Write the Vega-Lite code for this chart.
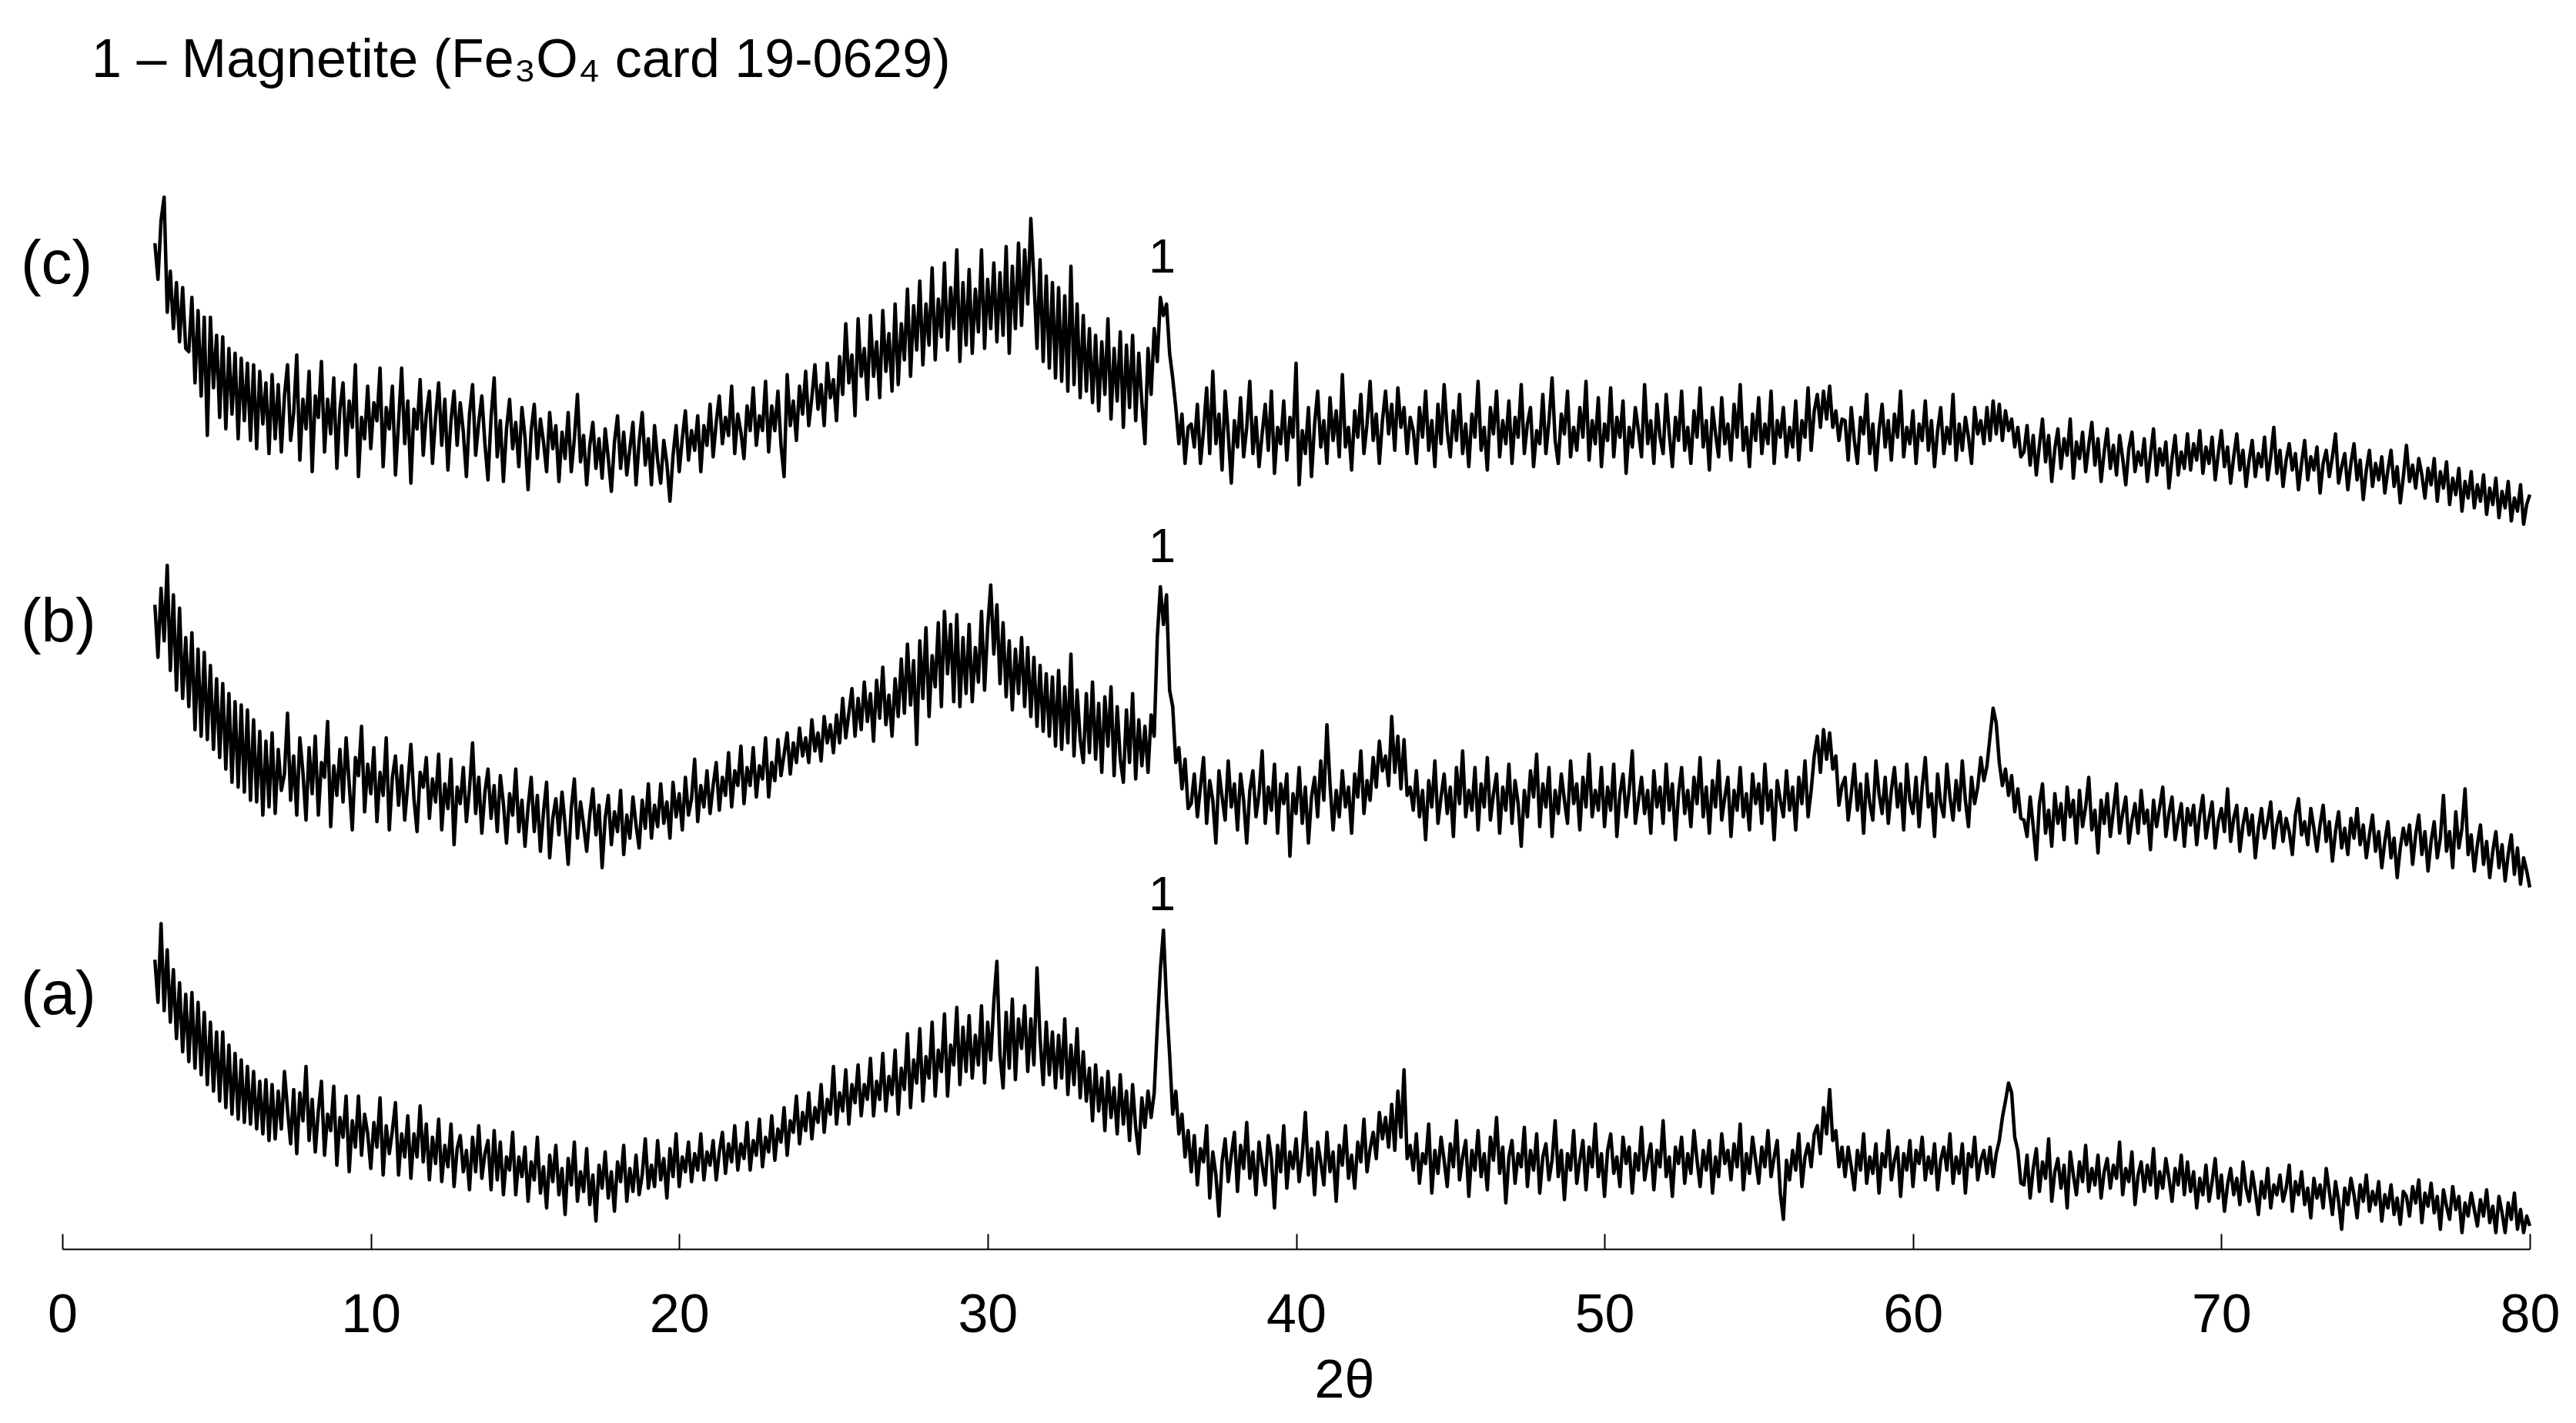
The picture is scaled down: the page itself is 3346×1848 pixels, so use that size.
{
"$schema":"https://vega.github.io/schema/vega-lite/v6.json",
"width":3205,"height":1622,
"autosize":{"type":"none"},
"padding":{"left":81,"top":0,"right":60,"bottom":226},
"background":"white",
"config":{"view":{"stroke":null},"text":{"font":"Liberation Sans","color":"black"}},
"datasets":{
"xrd":[
{"x":3,"a":176,"b":392,"c":612},{"x":3.1,"a":150,"b":360,"c":590},{"x":3.2,"a":198,"b":402,"c":626},{"x":3.3,"a":145,"b":370,"c":640},{"x":3.4,"a":182,"b":416,"c":570},{"x":3.5,"a":138,"b":352,"c":595},{"x":3.6,"a":170,"b":398,"c":560},{"x":3.7,"a":128,"b":340,"c":588},{"x":3.8,"a":162,"b":390,"c":552},{"x":3.9,"a":120,"b":335,"c":585},
{"x":4,"a":155,"b":372,"c":548},{"x":4.1,"a":114,"b":330,"c":546},{"x":4.2,"a":156,"b":375,"c":579},{"x":4.3,"a":110,"b":316,"c":527},{"x":4.4,"a":150,"b":365,"c":571},{"x":4.5,"a":106,"b":312,"c":519},{"x":4.6,"a":144,"b":363,"c":567},{"x":4.7,"a":100,"b":310,"c":495},{"x":4.8,"a":138,"b":355,"c":567},{"x":4.9,"a":96,"b":304,"c":524},
{"x":5,"a":132,"b":347,"c":556},{"x":5.1,"a":90,"b":299,"c":506},{"x":5.2,"a":132,"b":344,"c":555},{"x":5.3,"a":86,"b":292,"c":499},{"x":5.4,"a":124,"b":338,"c":548},{"x":5.5,"a":82,"b":284,"c":508},{"x":5.6,"a":119,"b":333,"c":545},{"x":5.7,"a":79,"b":281,"c":493},{"x":5.8,"a":115,"b":331,"c":542},{"x":5.9,"a":77,"b":278,"c":504},
{"x":6,"a":111,"b":328,"c":539},{"x":6.1,"a":76,"b":273,"c":492},{"x":6.2,"a":108,"b":322,"c":538},{"x":6.3,"a":73,"b":272,"c":487},{"x":6.4,"a":102,"b":315,"c":534},{"x":6.5,"a":70,"b":264,"c":502},{"x":6.6,"a":103,"b":309,"c":527},{"x":6.7,"a":66,"b":269,"c":484},{"x":6.8,"a":100,"b":314,"c":532},{"x":6.9,"a":67,"b":265,"c":493},
{"x":7,"a":96,"b":304,"c":526},{"x":7.1,"a":73,"b":279,"c":485},{"x":7.2,"a":108,"b":289,"c":519},{"x":7.3,"a":85,"b":326,"c":538},{"x":7.4,"a":64,"b":273,"c":492},{"x":7.5,"a":97,"b":300,"c":509},{"x":7.6,"a":58,"b":264,"c":544},{"x":7.7,"a":95,"b":311,"c":480},{"x":7.8,"a":78,"b":290,"c":517},{"x":7.9,"a":111,"b":261,"c":499},
{"x":8,"a":66,"b":305,"c":534},{"x":8.1,"a":91,"b":277,"c":473},{"x":8.2,"a":59,"b":312,"c":519},{"x":8.3,"a":84,"b":264,"c":506},{"x":8.4,"a":102,"b":296,"c":540},{"x":8.5,"a":57,"b":287,"c":485},{"x":8.6,"a":82,"b":321,"c":517},{"x":8.7,"a":72,"b":257,"c":496},{"x":8.8,"a":99,"b":294,"c":530},{"x":8.9,"a":51,"b":276,"c":475},
{"x":9,"a":80,"b":304,"c":511},{"x":9.1,"a":68,"b":272,"c":527},{"x":9.2,"a":93,"b":311,"c":483},{"x":9.3,"a":47,"b":283,"c":516},{"x":9.4,"a":78,"b":255,"c":500},{"x":9.5,"a":62,"b":299,"c":538},{"x":9.6,"a":93,"b":288,"c":470},{"x":9.7,"a":57,"b":318,"c":506},{"x":9.8,"a":82,"b":266,"c":493},{"x":9.9,"a":70,"b":295,"c":525},
{"x":10,"a":49,"b":277,"c":487},{"x":10.1,"a":77,"b":305,"c":515},{"x":10.2,"a":62,"b":260,"c":504},{"x":10.3,"a":92,"b":290,"c":536},{"x":10.4,"a":45,"b":276,"c":476},{"x":10.5,"a":75,"b":311,"c":512},{"x":10.6,"a":58,"b":255,"c":499},{"x":10.7,"a":72,"b":287,"c":525},{"x":10.8,"a":89,"b":300,"c":471},{"x":10.9,"a":45,"b":270,"c":503},
{"x":11,"a":70,"b":294,"c":536},{"x":11.1,"a":56,"b":261,"c":490},{"x":11.2,"a":81,"b":283,"c":516},{"x":11.3,"a":43,"b":307,"c":466},{"x":11.4,"a":70,"b":274,"c":511},{"x":11.5,"a":56,"b":254,"c":499},{"x":11.6,"a":87,"b":290,"c":529},{"x":11.7,"a":53,"b":281,"c":483},{"x":11.8,"a":76,"b":299,"c":508},{"x":11.9,"a":42,"b":262,"c":522},
{"x":12,"a":68,"b":286,"c":478},{"x":12.1,"a":52,"b":272,"c":506},{"x":12.2,"a":79,"b":301,"c":527},{"x":12.3,"a":41,"b":255,"c":489},{"x":12.4,"a":63,"b":283,"c":517},{"x":12.5,"a":50,"b":268,"c":474},{"x":12.6,"a":76,"b":298,"c":504},{"x":12.7,"a":38,"b":246,"c":522},{"x":12.8,"a":61,"b":281,"c":489},{"x":12.9,"a":69,"b":271,"c":515},
{"x":13,"a":47,"b":293,"c":497},{"x":13.1,"a":60,"b":260,"c":470},{"x":13.2,"a":36,"b":280,"c":508},{"x":13.3,"a":68,"b":308,"c":526},{"x":13.4,"a":47,"b":265,"c":483},{"x":13.5,"a":75,"b":287,"c":503},{"x":13.6,"a":43,"b":253,"c":519},{"x":13.7,"a":58,"b":278,"c":490},{"x":13.8,"a":66,"b":292,"c":468},{"x":13.9,"a":36,"b":262,"c":506},
{"x":14,"a":72,"b":282,"c":530},{"x":14.1,"a":42,"b":254,"c":482},{"x":14.2,"a":65,"b":288,"c":504},{"x":14.3,"a":33,"b":271,"c":467},{"x":14.4,"a":56,"b":247,"c":499},{"x":14.5,"a":48,"b":277,"c":517},{"x":14.6,"a":71,"b":264,"c":487},{"x":14.7,"a":33,"b":292,"c":503},{"x":14.8,"a":56,"b":254,"c":476},{"x":14.9,"a":44,"b":273,"c":512},
{"x":15,"a":62,"b":245,"c":494},{"x":15.1,"a":29,"b":269,"c":462},{"x":15.2,"a":53,"b":287,"c":498},{"x":15.3,"a":42,"b":254,"c":514},{"x":15.4,"a":68,"b":276,"c":481},{"x":15.5,"a":34,"b":242,"c":505},{"x":15.6,"a":50,"b":266,"c":491},{"x":15.7,"a":25,"b":284,"c":473},{"x":15.8,"a":57,"b":238,"c":509},{"x":15.9,"a":41,"b":262,"c":487},
{"x":16,"a":63,"b":274,"c":501},{"x":16.1,"a":33,"b":252,"c":467},{"x":16.2,"a":49,"b":278,"c":497},{"x":16.3,"a":21,"b":258,"c":481},{"x":16.4,"a":55,"b":234,"c":509},{"x":16.5,"a":39,"b":268,"c":473},{"x":16.6,"a":65,"b":286,"c":493},{"x":16.7,"a":29,"b":250,"c":520},{"x":16.8,"a":47,"b":272,"c":479},{"x":16.9,"a":35,"b":258,"c":495},
{"x":17,"a":61,"b":242,"c":465},{"x":17.1,"a":27,"b":264,"c":489},{"x":17.2,"a":45,"b":280,"c":503},{"x":17.3,"a":17,"b":252,"c":475},{"x":17.4,"a":51,"b":270,"c":493},{"x":17.5,"a":37,"b":232,"c":469},{"x":17.6,"a":59,"b":262,"c":499},{"x":17.7,"a":31,"b":276,"c":481},{"x":17.8,"a":47,"b":246,"c":461},{"x":17.9,"a":23,"b":266,"c":491},
{"x":18,"a":53,"b":254,"c":507},{"x":18.1,"a":41,"b":279,"c":475},{"x":18.2,"a":63,"b":240,"c":497},{"x":18.3,"a":29,"b":264,"c":471},{"x":18.4,"a":49,"b":250,"c":487},{"x":18.5,"a":35,"b":275,"c":503},{"x":18.6,"a":57,"b":258,"c":465},{"x":18.7,"a":33,"b":244,"c":491},{"x":18.8,"a":45,"b":273,"c":509},{"x":18.9,"a":67,"b":256,"c":477},
{"x":19,"a":37,"b":283,"c":493},{"x":19.1,"a":51,"b":250,"c":465},{"x":19.2,"a":38,"b":270,"c":501},{"x":19.3,"a":66,"b":257,"c":480},{"x":19.4,"a":42,"b":283,"c":466},{"x":19.5,"a":55,"b":259,"c":492},{"x":19.6,"a":31,"b":272,"c":478},{"x":19.7,"a":61,"b":250,"c":455},{"x":19.8,"a":44,"b":284,"c":483},{"x":19.9,"a":70,"b":263,"c":501},
{"x":20,"a":38,"b":277,"c":473},{"x":20.1,"a":56,"b":255,"c":493},{"x":20.2,"a":47,"b":287,"c":510},{"x":20.3,"a":65,"b":264,"c":480},{"x":20.4,"a":41,"b":274,"c":498},{"x":20.5,"a":58,"b":298,"c":486},{"x":20.6,"a":48,"b":260,"c":507},{"x":20.7,"a":70,"b":282,"c":473},{"x":20.8,"a":42,"b":269,"c":501},{"x":20.9,"a":59,"b":291,"c":489},
{"x":21,"a":51,"b":265,"c":514},{"x":21.1,"a":66,"b":282,"c":482},{"x":21.2,"a":42,"b":296,"c":503},{"x":21.3,"a":59,"b":267,"c":519},{"x":21.4,"a":71,"b":287,"c":490},{"x":21.5,"a":46,"b":276,"c":506},{"x":21.6,"a":64,"b":302,"c":495},{"x":21.7,"a":53,"b":269,"c":525},{"x":21.8,"a":75,"b":291,"c":484},{"x":21.9,"a":48,"b":282,"c":508},
{"x":22,"a":64,"b":306,"c":497},{"x":22.1,"a":55,"b":271,"c":481},{"x":22.2,"a":77,"b":293,"c":513},{"x":22.3,"a":48,"b":282,"c":498},{"x":22.4,"a":66,"b":305,"c":524},{"x":22.5,"a":57,"b":275,"c":489},{"x":22.6,"a":79,"b":294,"c":507},{"x":22.7,"a":50,"b":286,"c":498},{"x":22.8,"a":68,"b":311,"c":528},{"x":22.9,"a":59,"b":275,"c":485},
{"x":23,"a":81,"b":296,"c":513},{"x":23.1,"a":54,"b":285,"c":498},{"x":23.2,"a":73,"b":310,"c":522},{"x":23.3,"a":65,"b":288,"c":489},{"x":23.4,"a":86,"b":301,"c":470},{"x":23.5,"a":57,"b":314,"c":532},{"x":23.6,"a":78,"b":289,"c":501},{"x":23.7,"a":71,"b":308,"c":516},{"x":23.8,"a":93,"b":296,"c":492},{"x":23.9,"a":64,"b":317,"c":525},
{"x":24,"a":83,"b":300,"c":508},{"x":24.1,"a":72,"b":311,"c":534},{"x":24.2,"a":95,"b":296,"c":501},{"x":24.3,"a":67,"b":322,"c":518},{"x":24.4,"a":86,"b":303,"c":538},{"x":24.5,"a":77,"b":314,"c":511},{"x":24.6,"a":100,"b":297,"c":526},{"x":24.7,"a":71,"b":324,"c":501},{"x":24.8,"a":91,"b":308,"c":539},{"x":24.9,"a":82,"b":319,"c":518},
{"x":25,"a":111,"b":302,"c":529},{"x":25.1,"a":76,"b":325,"c":504},{"x":25.2,"a":95,"b":308,"c":543},{"x":25.3,"a":84,"b":335,"c":520},{"x":25.4,"a":109,"b":311,"c":563},{"x":25.5,"a":76,"b":326,"c":527},{"x":25.6,"a":100,"b":341,"c":544},{"x":25.7,"a":89,"b":312,"c":507},{"x":25.8,"a":112,"b":335,"c":566},{"x":25.9,"a":81,"b":316,"c":531},
{"x":26,"a":100,"b":345,"c":548},{"x":26.1,"a":91,"b":321,"c":517},{"x":26.2,"a":116,"b":338,"c":568},{"x":26.3,"a":81,"b":309,"c":531},{"x":26.4,"a":102,"b":346,"c":552},{"x":26.5,"a":91,"b":323,"c":518},{"x":26.6,"a":119,"b":354,"c":571},{"x":26.7,"a":84,"b":319,"c":534},{"x":26.8,"a":105,"b":337,"c":557},{"x":26.9,"a":94,"b":312,"c":522},
{"x":27,"a":121,"b":347,"c":575},{"x":27.1,"a":82,"b":324,"c":526},{"x":27.2,"a":110,"b":359,"c":563},{"x":27.3,"a":97,"b":326,"c":541},{"x":27.4,"a":131,"b":368,"c":584},{"x":27.5,"a":86,"b":331,"c":531},{"x":27.6,"a":115,"b":358,"c":574},{"x":27.7,"a":101,"b":307,"c":547},{"x":27.8,"a":134,"b":370,"c":589},{"x":27.9,"a":90,"b":335,"c":538},
{"x":28,"a":117,"b":378,"c":575},{"x":28.1,"a":104,"b":324,"c":550},{"x":28.2,"a":138,"b":361,"c":597},{"x":28.3,"a":93,"b":342,"c":541},{"x":28.4,"a":121,"b":381,"c":578},{"x":28.5,"a":108,"b":330,"c":555},{"x":28.6,"a":143,"b":388,"c":600},{"x":28.7,"a":93,"b":350,"c":547},{"x":28.8,"a":124,"b":380,"c":585},{"x":28.9,"a":112,"b":333,"c":560},
{"x":29,"a":147,"b":386,"c":608},{"x":29.1,"a":100,"b":330,"c":540},{"x":29.2,"a":135,"b":372,"c":588},{"x":29.3,"a":108,"b":338,"c":550},{"x":29.4,"a":142,"b":380,"c":596},{"x":29.5,"a":104,"b":333,"c":545},{"x":29.6,"a":130,"b":366,"c":584},{"x":29.7,"a":112,"b":345,"c":558},{"x":29.8,"a":148,"b":388,"c":608},{"x":29.9,"a":101,"b":340,"c":548},
{"x":30,"a":138,"b":378,"c":590},{"x":30.1,"a":115,"b":404,"c":560},{"x":30.2,"a":150,"b":362,"c":600},{"x":30.3,"a":175,"b":392,"c":552},{"x":30.4,"a":118,"b":344,"c":594},{"x":30.5,"a":98,"b":381,"c":556},{"x":30.6,"a":144,"b":336,"c":610},{"x":30.7,"a":110,"b":370,"c":545},{"x":30.8,"a":152,"b":328,"c":598},{"x":30.9,"a":103,"b":365,"c":560},
{"x":31,"a":140,"b":338,"c":612},{"x":31.1,"a":122,"b":372,"c":562},{"x":31.2,"a":148,"b":330,"c":608},{"x":31.3,"a":108,"b":366,"c":575},{"x":31.4,"a":140,"b":324,"c":627},{"x":31.5,"a":112,"b":360,"c":590},{"x":31.6,"a":171,"b":318,"c":548},{"x":31.7,"a":128,"b":355,"c":602},{"x":31.8,"a":100,"b":315,"c":540},{"x":31.9,"a":138,"b":350,"c":592},
{"x":32,"a":106,"b":312,"c":536},{"x":32.1,"a":132,"b":348,"c":588},{"x":32.2,"a":98,"b":306,"c":530},{"x":32.3,"a":130,"b":352,"c":585},{"x":32.4,"a":104,"b":304,"c":528},{"x":32.5,"a":140,"b":342,"c":580},{"x":32.6,"a":94,"b":308,"c":522},{"x":32.7,"a":124,"b":362,"c":598},{"x":32.8,"a":100,"b":300,"c":526},{"x":32.9,"a":134,"b":340,"c":575},
{"x":33,"a":92,"b":310,"c":518},{"x":33.1,"a":120,"b":296,"c":568},{"x":33.2,"a":90,"b":338,"c":522},{"x":33.3,"a":110,"b":302,"c":560},{"x":33.4,"a":78,"b":345,"c":515},{"x":33.5,"a":112,"b":298,"c":556},{"x":33.6,"a":84,"b":332,"c":510},{"x":33.7,"a":104,"b":290,"c":552},{"x":33.8,"a":72,"b":336,"c":520},{"x":33.9,"a":108,"b":306,"c":566},
{"x":34,"a":80,"b":342,"c":505},{"x":34.1,"a":98,"b":288,"c":548},{"x":34.2,"a":70,"b":330,"c":516},{"x":34.3,"a":106,"b":298,"c":558},{"x":34.4,"a":76,"b":284,"c":500},{"x":34.5,"a":96,"b":328,"c":550},{"x":34.6,"a":66,"b":296,"c":512},{"x":34.7,"a":100,"b":338,"c":556},{"x":34.8,"a":74,"b":286,"c":504},{"x":34.9,"a":58,"b":322,"c":545},
{"x":35,"a":92,"b":294,"c":515},{"x":35.1,"a":74,"b":318,"c":490},{"x":35.2,"a":96,"b":290,"c":548},{"x":35.3,"a":80,"b":325,"c":520},{"x":35.4,"a":95,"b":312,"c":560},{"x":35.5,"a":135,"b":372,"c":540},{"x":35.6,"a":170,"b":403,"c":579},{"x":35.7,"a":194,"b":380,"c":568},{"x":35.8,"a":150,"b":398,"c":575},{"x":35.9,"a":118,"b":340,"c":545},
{"x":36,"a":82,"b":330,"c":530},{"x":36.1,"a":96,"b":296,"c":512},{"x":36.2,"a":70,"b":305,"c":490},{"x":36.3,"a":82,"b":280,"c":508},{"x":36.4,"a":56,"b":298,"c":478},{"x":36.5,"a":72,"b":268,"c":500},{"x":36.6,"a":47,"b":271,"c":502},{"x":36.7,"a":69,"b":289,"c":488},{"x":36.8,"a":39,"b":263,"c":514},{"x":36.9,"a":61,"b":281,"c":478},
{"x":37,"a":53,"b":299,"c":498},{"x":37.1,"a":75,"b":259,"c":524},{"x":37.2,"a":31,"b":285,"c":484},{"x":37.3,"a":59,"b":273,"c":534},{"x":37.4,"a":45,"b":247,"c":490},{"x":37.5,"a":20,"b":291,"c":508},{"x":37.6,"a":53,"b":275,"c":474},{"x":37.7,"a":67,"b":261,"c":522},{"x":37.8,"a":41,"b":297,"c":496},{"x":37.9,"a":57,"b":269,"c":466},
{"x":38,"a":71,"b":283,"c":504},{"x":38.1,"a":35,"b":255,"c":488},{"x":38.2,"a":63,"b":289,"c":518},{"x":38.3,"a":49,"b":273,"c":482},{"x":38.4,"a":77,"b":247,"c":500},{"x":38.5,"a":43,"b":279,"c":528},{"x":38.6,"a":59,"b":291,"c":484},{"x":38.7,"a":33,"b":263,"c":506},{"x":38.8,"a":65,"b":277,"c":476},{"x":38.9,"a":51,"b":303,"c":496},
{"x":39,"a":39,"b":259,"c":514},{"x":39.1,"a":69,"b":281,"c":486},{"x":39.2,"a":55,"b":267,"c":522},{"x":39.3,"a":25,"b":295,"c":472},{"x":39.4,"a":63,"b":253,"c":500},{"x":39.5,"a":47,"b":283,"c":490},{"x":39.6,"a":75,"b":271,"c":516},{"x":39.7,"a":37,"b":289,"c":480},{"x":39.8,"a":59,"b":239,"c":506},{"x":39.9,"a":49,"b":277,"c":494},
{"x":40,"a":67,"b":265,"c":539},{"x":40.1,"a":41,"b":293,"c":465},{"x":40.2,"a":57,"b":259,"c":498},{"x":40.3,"a":83,"b":281,"c":484},{"x":40.4,"a":45,"b":247,"c":512},{"x":40.5,"a":61,"b":275,"c":470},{"x":40.6,"a":33,"b":287,"c":502},{"x":40.7,"a":65,"b":263,"c":522},{"x":40.8,"a":53,"b":297,"c":488},{"x":40.9,"a":39,"b":273,"c":504},
{"x":41,"a":71,"b":319,"c":478},{"x":41.1,"a":47,"b":283,"c":518},{"x":41.2,"a":59,"b":255,"c":492},{"x":41.3,"a":29,"b":279,"c":510},{"x":41.4,"a":63,"b":263,"c":482},{"x":41.5,"a":51,"b":291,"c":532},{"x":41.6,"a":75,"b":269,"c":488},{"x":41.7,"a":43,"b":281,"c":500},{"x":41.8,"a":57,"b":253,"c":474},{"x":41.9,"a":37,"b":289,"c":510},
{"x":42,"a":65,"b":275,"c":494},{"x":42.1,"a":53,"b":303,"c":520},{"x":42.2,"a":79,"b":265,"c":484},{"x":42.3,"a":47,"b":285,"c":502},{"x":42.4,"a":61,"b":273,"c":528},{"x":42.5,"a":71,"b":299,"c":492},{"x":42.6,"a":55,"b":281,"c":508},{"x":42.7,"a":83,"b":309,"c":478},{"x":42.8,"a":67,"b":291,"c":504},{"x":42.9,"a":80,"b":300,"c":522},
{"x":43,"a":62,"b":282,"c":496},{"x":43.1,"a":88,"b":324,"c":514},{"x":43.2,"a":60,"b":290,"c":486},{"x":43.3,"a":96,"b":312,"c":524},{"x":43.4,"a":68,"b":280,"c":500},{"x":43.5,"a":109,"b":310,"c":512},{"x":43.6,"a":55,"b":276,"c":484},{"x":43.7,"a":63,"b":281,"c":506},{"x":43.8,"a":48,"b":267,"c":498},{"x":43.9,"a":70,"b":291,"c":478},
{"x":44,"a":40,"b":263,"c":512},{"x":44.1,"a":58,"b":279,"c":494},{"x":44.2,"a":52,"b":249,"c":522},{"x":44.3,"a":76,"b":285,"c":486},{"x":44.4,"a":34,"b":269,"c":504},{"x":44.5,"a":60,"b":297,"c":476},{"x":44.6,"a":46,"b":259,"c":514},{"x":44.7,"a":68,"b":275,"c":490},{"x":44.8,"a":54,"b":289,"c":526},{"x":44.9,"a":38,"b":265,"c":498},
{"x":45,"a":64,"b":281,"c":482},{"x":45.1,"a":50,"b":251,"c":510},{"x":45.2,"a":78,"b":293,"c":492},{"x":45.3,"a":42,"b":271,"c":520},{"x":45.4,"a":56,"b":303,"c":484},{"x":45.5,"a":66,"b":263,"c":502},{"x":45.6,"a":32,"b":279,"c":476},{"x":45.7,"a":60,"b":267,"c":508},{"x":45.8,"a":48,"b":293,"c":494},{"x":45.9,"a":72,"b":255,"c":528},
{"x":46,"a":44,"b":283,"c":486},{"x":46.1,"a":58,"b":269,"c":500},{"x":46.2,"a":36,"b":299,"c":474},{"x":46.3,"a":68,"b":261,"c":512},{"x":46.4,"a":54,"b":277,"c":496},{"x":46.5,"a":80,"b":289,"c":522},{"x":46.6,"a":46,"b":253,"c":482},{"x":46.7,"a":62,"b":281,"c":504},{"x":46.8,"a":28,"b":267,"c":490},{"x":46.9,"a":56,"b":295,"c":516},
{"x":47,"a":66,"b":259,"c":478},{"x":47.1,"a":40,"b":285,"c":506},{"x":47.2,"a":58,"b":271,"c":494},{"x":47.3,"a":50,"b":245,"c":526},{"x":47.4,"a":74,"b":279,"c":484},{"x":47.5,"a":38,"b":263,"c":502},{"x":47.6,"a":60,"b":291,"c":512},{"x":47.7,"a":48,"b":275,"c":476},{"x":47.8,"a":70,"b":301,"c":498},{"x":47.9,"a":34,"b":257,"c":490},
{"x":48,"a":56,"b":283,"c":520},{"x":48.1,"a":64,"b":269,"c":484},{"x":48.2,"a":42,"b":293,"c":504},{"x":48.3,"a":54,"b":251,"c":530},{"x":48.4,"a":78,"b":279,"c":492},{"x":48.5,"a":44,"b":265,"c":478},{"x":48.6,"a":60,"b":289,"c":508},{"x":48.7,"a":30,"b":273,"c":496},{"x":48.8,"a":58,"b":259,"c":522},{"x":48.9,"a":48,"b":297,"c":482},
{"x":49,"a":72,"b":271,"c":500},{"x":49.1,"a":40,"b":283,"c":486},{"x":49.2,"a":54,"b":255,"c":512},{"x":49.3,"a":66,"b":287,"c":494},{"x":49.4,"a":36,"b":269,"c":528},{"x":49.5,"a":62,"b":301,"c":480},{"x":49.6,"a":50,"b":263,"c":504},{"x":49.7,"a":76,"b":279,"c":490},{"x":49.8,"a":44,"b":267,"c":518},{"x":49.9,"a":58,"b":293,"c":476},
{"x":50,"a":32,"b":257,"c":502},{"x":50.1,"a":60,"b":281,"c":492},{"x":50.2,"a":70,"b":267,"c":524},{"x":50.3,"a":46,"b":295,"c":482},{"x":50.4,"a":56,"b":251,"c":506},{"x":50.5,"a":38,"b":277,"c":494},{"x":50.6,"a":68,"b":289,"c":516},{"x":50.7,"a":52,"b":263,"c":472},{"x":50.8,"a":62,"b":279,"c":500},{"x":50.9,"a":34,"b":303,"c":488},
{"x":51,"a":58,"b":259,"c":512},{"x":51.1,"a":48,"b":273,"c":498},{"x":51.2,"a":74,"b":287,"c":482},{"x":51.3,"a":42,"b":265,"c":526},{"x":51.4,"a":54,"b":279,"c":490},{"x":51.5,"a":64,"b":253,"c":504},{"x":51.6,"a":36,"b":291,"c":478},{"x":51.7,"a":60,"b":269,"c":514},{"x":51.8,"a":50,"b":281,"c":494},{"x":51.9,"a":78,"b":259,"c":484},
{"x":52,"a":44,"b":295,"c":520},{"x":52.1,"a":56,"b":267,"c":496},{"x":52.2,"a":32,"b":283,"c":476},{"x":52.3,"a":62,"b":249,"c":506},{"x":52.4,"a":52,"b":277,"c":492},{"x":52.5,"a":68,"b":293,"c":522},{"x":52.6,"a":40,"b":265,"c":486},{"x":52.7,"a":58,"b":279,"c":500},{"x":52.8,"a":46,"b":257,"c":478},{"x":52.9,"a":72,"b":287,"c":510},
{"x":53,"a":54,"b":271,"c":494},{"x":53.1,"a":38,"b":299,"c":524},{"x":53.2,"a":60,"b":263,"c":488},{"x":53.3,"a":48,"b":281,"c":504},{"x":53.4,"a":66,"b":253,"c":474},{"x":53.5,"a":34,"b":285,"c":512},{"x":53.6,"a":56,"b":269,"c":496},{"x":53.7,"a":44,"b":297,"c":482},{"x":53.8,"a":70,"b":261,"c":518},{"x":53.9,"a":52,"b":275,"c":490},
{"x":54,"a":60,"b":287,"c":502},{"x":54.1,"a":42,"b":251,"c":480},{"x":54.2,"a":64,"b":279,"c":514},{"x":54.3,"a":50,"b":267,"c":494},{"x":54.4,"a":76,"b":293,"c":526},{"x":54.5,"a":36,"b":263,"c":486},{"x":54.6,"a":58,"b":277,"c":500},{"x":54.7,"a":46,"b":255,"c":476},{"x":54.8,"a":68,"b":289,"c":508},{"x":54.9,"a":54,"b":271,"c":492},
{"x":55,"a":40,"b":283,"c":518},{"x":55.1,"a":62,"b":259,"c":484},{"x":55.2,"a":50,"b":295,"c":502},{"x":55.3,"a":72,"b":267,"c":490},{"x":55.4,"a":44,"b":279,"c":522},{"x":55.5,"a":56,"b":249,"c":478},{"x":55.6,"a":66,"b":285,"c":504},{"x":55.7,"a":34,"b":273,"c":494},{"x":55.8,"a":18,"b":263,"c":512},{"x":55.9,"a":54,"b":291,"c":482},
{"x":56,"a":42,"b":267,"c":500},{"x":56.1,"a":60,"b":281,"c":488},{"x":56.2,"a":48,"b":255,"c":516},{"x":56.3,"a":70,"b":287,"c":480},{"x":56.4,"a":38,"b":271,"c":504},{"x":56.5,"a":56,"b":297,"c":494},{"x":56.6,"a":64,"b":263,"c":524},{"x":56.7,"a":50,"b":279,"c":486},{"x":56.8,"a":70,"b":300,"c":510},{"x":56.9,"a":75,"b":312,"c":520},
{"x":57,"a":58,"b":290,"c":500},{"x":57.1,"a":86,"b":316,"c":522},{"x":57.2,"a":70,"b":298,"c":505},{"x":57.3,"a":97,"b":314,"c":525},{"x":57.4,"a":66,"b":292,"c":500},{"x":57.5,"a":72,"b":300,"c":510},{"x":57.6,"a":50,"b":270,"c":492},{"x":57.7,"a":62,"b":282,"c":505},{"x":57.8,"a":44,"b":287,"c":504},{"x":57.9,"a":62,"b":261,"c":480},
{"x":58,"a":50,"b":277,"c":512},{"x":58.1,"a":36,"b":295,"c":492},{"x":58.2,"a":60,"b":267,"c":478},{"x":58.3,"a":48,"b":283,"c":506},{"x":58.4,"a":70,"b":253,"c":496},{"x":58.5,"a":40,"b":289,"c":520},{"x":58.6,"a":56,"b":271,"c":484},{"x":58.7,"a":46,"b":261,"c":502},{"x":58.8,"a":64,"b":297,"c":474},{"x":58.9,"a":34,"b":277,"c":498},
{"x":59,"a":58,"b":265,"c":514},{"x":59.1,"a":50,"b":287,"c":488},{"x":59.2,"a":72,"b":259,"c":504},{"x":59.3,"a":42,"b":279,"c":480},{"x":59.4,"a":54,"b":293,"c":508},{"x":59.5,"a":62,"b":269,"c":494},{"x":59.6,"a":32,"b":283,"c":522},{"x":59.7,"a":58,"b":255,"c":482},{"x":59.8,"a":48,"b":295,"c":500},{"x":59.9,"a":66,"b":273,"c":490},
{"x":60,"a":38,"b":265,"c":510},{"x":60.1,"a":60,"b":287,"c":478},{"x":60.2,"a":52,"b":257,"c":502},{"x":60.3,"a":68,"b":281,"c":492},{"x":60.4,"a":42,"b":299,"c":516},{"x":60.5,"a":56,"b":269,"c":486},{"x":60.6,"a":46,"b":277,"c":504},{"x":60.7,"a":64,"b":251,"c":476},{"x":60.8,"a":36,"b":289,"c":498},{"x":60.9,"a":54,"b":271,"c":512},
{"x":61,"a":62,"b":263,"c":484},{"x":61.1,"a":48,"b":295,"c":500},{"x":61.2,"a":70,"b":275,"c":490},{"x":61.3,"a":40,"b":261,"c":520},{"x":61.4,"a":56,"b":285,"c":480},{"x":61.5,"a":46,"b":267,"c":502},{"x":61.6,"a":64,"b":297,"c":486},{"x":61.7,"a":34,"b":273,"c":506},{"x":61.8,"a":58,"b":257,"c":494},{"x":61.9,"a":50,"b":287,"c":478},
{"x":62,"a":68,"b":271,"c":512},{"x":62.1,"a":42,"b":281,"c":496},{"x":62.2,"a":54,"b":299,"c":504},{"x":62.3,"a":60,"b":285,"c":490},{"x":62.4,"a":46,"b":294,"c":512},{"x":62.5,"a":62,"b":312,"c":492},{"x":62.6,"a":44,"b":329,"c":516},{"x":62.7,"a":58,"b":320,"c":496},{"x":62.8,"a":66,"b":296,"c":514},{"x":62.9,"a":80,"b":282,"c":492},
{"x":63,"a":90,"b":292,"c":510},{"x":63.1,"a":101,"b":276,"c":498},{"x":63.2,"a":95,"b":288,"c":505},{"x":63.3,"a":68,"b":266,"c":488},{"x":63.4,"a":60,"b":280,"c":500},{"x":63.5,"a":40,"b":262,"c":482},{"x":63.6,"a":39,"b":261,"c":485},{"x":63.7,"a":57,"b":251,"c":501},{"x":63.8,"a":31,"b":275,"c":477},{"x":63.9,"a":49,"b":257,"c":495},
{"x":64,"a":61,"b":237,"c":471},{"x":64.1,"a":35,"b":271,"c":489},{"x":64.2,"a":53,"b":283,"c":505},{"x":64.3,"a":43,"b":253,"c":479},{"x":64.4,"a":67,"b":267,"c":495},{"x":64.5,"a":29,"b":245,"c":467},{"x":64.6,"a":47,"b":277,"c":487},{"x":64.7,"a":55,"b":259,"c":499},{"x":64.8,"a":37,"b":271,"c":475},{"x":64.9,"a":51,"b":249,"c":493},
{"x":65,"a":25,"b":281,"c":483},{"x":65.1,"a":59,"b":263,"c":505},{"x":65.2,"a":45,"b":273,"c":469},{"x":65.3,"a":33,"b":247,"c":491},{"x":65.4,"a":53,"b":279,"c":481},{"x":65.5,"a":41,"b":257,"c":497},{"x":65.6,"a":63,"b":269,"c":473},{"x":65.7,"a":35,"b":287,"c":489},{"x":65.8,"a":49,"b":255,"c":503},{"x":65.9,"a":39,"b":267,"c":477},
{"x":66,"a":57,"b":241,"c":493},{"x":66.1,"a":31,"b":273,"c":467},{"x":66.2,"a":47,"b":259,"c":485},{"x":66.3,"a":55,"b":277,"c":499},{"x":66.4,"a":37,"b":251,"c":475},{"x":66.5,"a":51,"b":267,"c":489},{"x":66.6,"a":43,"b":283,"c":471},{"x":66.7,"a":65,"b":253,"c":495},{"x":66.8,"a":33,"b":265,"c":481},{"x":66.9,"a":49,"b":275,"c":465},
{"x":67,"a":41,"b":247,"c":487},{"x":67.1,"a":59,"b":261,"c":497},{"x":67.2,"a":27,"b":271,"c":473},{"x":67.3,"a":45,"b":253,"c":485},{"x":67.4,"a":53,"b":279,"c":477},{"x":67.5,"a":35,"b":259,"c":493},{"x":67.6,"a":51,"b":267,"c":467},{"x":67.7,"a":39,"b":243,"c":483},{"x":67.8,"a":61,"b":273,"c":499},{"x":67.9,"a":31,"b":257,"c":471},
{"x":68,"a":47,"b":269,"c":487},{"x":68.1,"a":37,"b":281,"c":477},{"x":68.2,"a":55,"b":251,"c":491},{"x":68.3,"a":43,"b":265,"c":463},{"x":68.4,"a":29,"b":275,"c":481},{"x":68.5,"a":49,"b":249,"c":495},{"x":68.6,"a":39,"b":261,"c":471},{"x":68.7,"a":57,"b":271,"c":485},{"x":68.8,"a":33,"b":245,"c":475},{"x":68.9,"a":53,"b":268,"c":496},
{"x":69,"a":35,"b":258,"c":474},{"x":69.1,"a":47,"b":270,"c":490},{"x":69.2,"a":25,"b":246,"c":480},{"x":69.3,"a":43,"b":264,"c":498},{"x":69.4,"a":33,"b":276,"c":472},{"x":69.5,"a":51,"b":250,"c":488},{"x":69.6,"a":29,"b":262,"c":478},{"x":69.7,"a":41,"b":272,"c":494},{"x":69.8,"a":55,"b":244,"c":468},{"x":69.9,"a":31,"b":260,"c":484},
{"x":70,"a":45,"b":268,"c":498},{"x":70.1,"a":23,"b":254,"c":476},{"x":70.2,"a":39,"b":280,"c":488},{"x":70.3,"a":49,"b":248,"c":466},{"x":70.4,"a":33,"b":262,"c":482},{"x":70.5,"a":43,"b":270,"c":496},{"x":70.6,"a":27,"b":242,"c":474},{"x":70.7,"a":53,"b":258,"c":486},{"x":70.8,"a":37,"b":268,"c":464},{"x":70.9,"a":29,"b":252,"c":480},
{"x":71,"a":47,"b":264,"c":492},{"x":71.1,"a":35,"b":238,"c":470},{"x":71.2,"a":21,"b":256,"c":484},{"x":71.3,"a":41,"b":268,"c":476},{"x":71.4,"a":31,"b":250,"c":494},{"x":71.5,"a":49,"b":260,"c":468},{"x":71.6,"a":25,"b":272,"c":482},{"x":71.7,"a":39,"b":244,"c":500},{"x":71.8,"a":33,"b":258,"c":472},{"x":71.9,"a":45,"b":266,"c":486},
{"x":72,"a":29,"b":248,"c":464},{"x":72.1,"a":37,"b":262,"c":480},{"x":72.2,"a":51,"b":254,"c":490},{"x":72.3,"a":23,"b":240,"c":474},{"x":72.4,"a":41,"b":264,"c":484},{"x":72.5,"a":33,"b":274,"c":462},{"x":72.6,"a":47,"b":252,"c":478},{"x":72.7,"a":27,"b":260,"c":492},{"x":72.8,"a":37,"b":246,"c":468},{"x":72.9,"a":19,"b":268,"c":482},
{"x":73,"a":43,"b":256,"c":474},{"x":73.1,"a":31,"b":242,"c":488},{"x":73.2,"a":39,"b":258,"c":460},{"x":73.3,"a":25,"b":270,"c":478},{"x":73.4,"a":49,"b":248,"c":486},{"x":73.5,"a":35,"b":260,"c":470},{"x":73.6,"a":21,"b":236,"c":482},{"x":73.7,"a":41,"b":254,"c":496},{"x":73.8,"a":29,"b":266,"c":466},{"x":73.9,"a":12,"b":244,"c":476},
{"x":74,"a":37,"b":256,"c":484},{"x":74.1,"a":27,"b":240,"c":462},{"x":74.2,"a":43,"b":262,"c":478},{"x":74.3,"a":33,"b":250,"c":490},{"x":74.4,"a":19,"b":268,"c":468},{"x":74.5,"a":39,"b":246,"c":480},{"x":74.6,"a":29,"b":258,"c":456},{"x":74.7,"a":45,"b":238,"c":474},{"x":74.8,"a":23,"b":252,"c":486},{"x":74.9,"a":35,"b":264,"c":464},
{"x":75,"a":27,"b":242,"c":478},{"x":75.1,"a":41,"b":254,"c":468},{"x":75.2,"a":17,"b":232,"c":482},{"x":75.3,"a":33,"b":248,"c":460},{"x":75.4,"a":25,"b":260,"c":474},{"x":75.5,"a":39,"b":238,"c":486},{"x":75.6,"a":21,"b":250,"c":464},{"x":75.7,"a":31,"b":226,"c":476},{"x":75.8,"a":15,"b":244,"c":454},{"x":75.9,"a":35,"b":256,"c":470},
{"x":76,"a":32,"b":246,"c":489},{"x":76.1,"a":20,"b":258,"c":467},{"x":76.2,"a":38,"b":234,"c":477},{"x":76.3,"a":28,"b":252,"c":463},{"x":76.4,"a":42,"b":264,"c":481},{"x":76.5,"a":16,"b":240,"c":471},{"x":76.6,"a":34,"b":254,"c":457},{"x":76.7,"a":26,"b":230,"c":475},{"x":76.8,"a":40,"b":248,"c":465},{"x":76.9,"a":22,"b":260,"c":481},
{"x":77,"a":32,"b":238,"c":455},{"x":77.1,"a":12,"b":250,"c":473},{"x":77.2,"a":36,"b":276,"c":463},{"x":77.3,"a":26,"b":242,"c":479},{"x":77.4,"a":18,"b":254,"c":453},{"x":77.5,"a":38,"b":232,"c":469},{"x":77.6,"a":24,"b":266,"c":459},{"x":77.7,"a":32,"b":244,"c":475},{"x":77.8,"a":10,"b":256,"c":449},{"x":77.9,"a":28,"b":280,"c":467},
{"x":78,"a":20,"b":240,"c":457},{"x":78.1,"a":34,"b":252,"c":473},{"x":78.2,"a":24,"b":230,"c":451},{"x":78.3,"a":14,"b":246,"c":465},{"x":78.4,"a":30,"b":258,"c":455},{"x":78.5,"a":20,"b":234,"c":471},{"x":78.6,"a":36,"b":248,"c":447},{"x":78.7,"a":16,"b":226,"c":463},{"x":78.8,"a":26,"b":242,"c":453},{"x":78.9,"a":10,"b":254,"c":469},
{"x":79,"a":32,"b":232,"c":445},{"x":79.1,"a":22,"b":246,"c":461},{"x":79.2,"a":10,"b":224,"c":451},{"x":79.3,"a":28,"b":240,"c":467},{"x":79.4,"a":18,"b":252,"c":443},{"x":79.5,"a":34,"b":228,"c":457},{"x":79.6,"a":12,"b":244,"c":449},{"x":79.7,"a":24,"b":222,"c":465},{"x":79.8,"a":10,"b":238,"c":441},{"x":79.9,"a":20,"b":230,"c":453},
{"x":80,"a":14,"b":220,"c":459}
],
"title":[{"x":0.95,"v":713,"t":"1 – Magnetite (Fe₃O₄ card 19-0629)"}],
"lab":[{"x":-1.35,"v":599,"t":"(c)"},{"x":-1.35,"v":381,"t":"(b)"},{"x":-1.35,"v":154,"t":"(a)"}],
"pk":[{"x":35.66,"v":594,"t":"1"},{"x":35.66,"v":418,"t":"1"},{"x":35.66,"v":206,"t":"1"}]
},
"encoding":{
"x":{"field":"x","type":"quantitative","scale":{"domain":[0,80],"nice":false,"zero":false},
"axis":{"values":[0,10,20,30,40,50,60,70,80],"grid":false,"title":"2θ","domainColor":"black","domainWidth":2,"tickColor":"black","tickWidth":2,"tickSize":-20,"labelFont":"Liberation Sans","labelFontSize":70,"labelColor":"black","labelPadding":127,"labelBaseline":"alphabetic","labelFlush":false,"labelOverlap":false,"titleFont":"Liberation Sans","titleFontSize":70,"titleFontWeight":"normal","titleColor":"black","titleX":1665,"titleY":192,"titleBaseline":"alphabetic","titleAlign":"center","titleAnchor":null}}
},
"layer":[
{"data":{"name":"xrd"},"mark":{"type":"line","color":"black","strokeWidth":4.5,"strokeJoin":"round"},"encoding":{"y":{"field":"a","type":"quantitative","scale":{"domain":[0,760],"zero":false,"nice":false},"axis":null}}},
{"data":{"name":"xrd"},"mark":{"type":"line","color":"black","strokeWidth":4.5,"strokeJoin":"round"},"encoding":{"y":{"field":"b","type":"quantitative","scale":{"domain":[0,760],"zero":false,"nice":false},"axis":null}}},
{"data":{"name":"xrd"},"mark":{"type":"line","color":"black","strokeWidth":4.5,"strokeJoin":"round"},"encoding":{"y":{"field":"c","type":"quantitative","scale":{"domain":[0,760],"zero":false,"nice":false},"axis":null}}},
{"data":{"name":"title"},"mark":{"type":"text","fontSize":70,"align":"left","baseline":"alphabetic"},"encoding":{"y":{"field":"v","type":"quantitative","axis":null},"text":{"field":"t"}}},
{"data":{"name":"lab"},"mark":{"type":"text","fontSize":80,"align":"left","baseline":"middle"},"encoding":{"y":{"field":"v","type":"quantitative","axis":null},"text":{"field":"t"}}},
{"data":{"name":"pk"},"mark":{"type":"text","fontSize":63,"align":"center","baseline":"alphabetic"},"encoding":{"y":{"field":"v","type":"quantitative","axis":null},"text":{"field":"t"}}}
]
}
